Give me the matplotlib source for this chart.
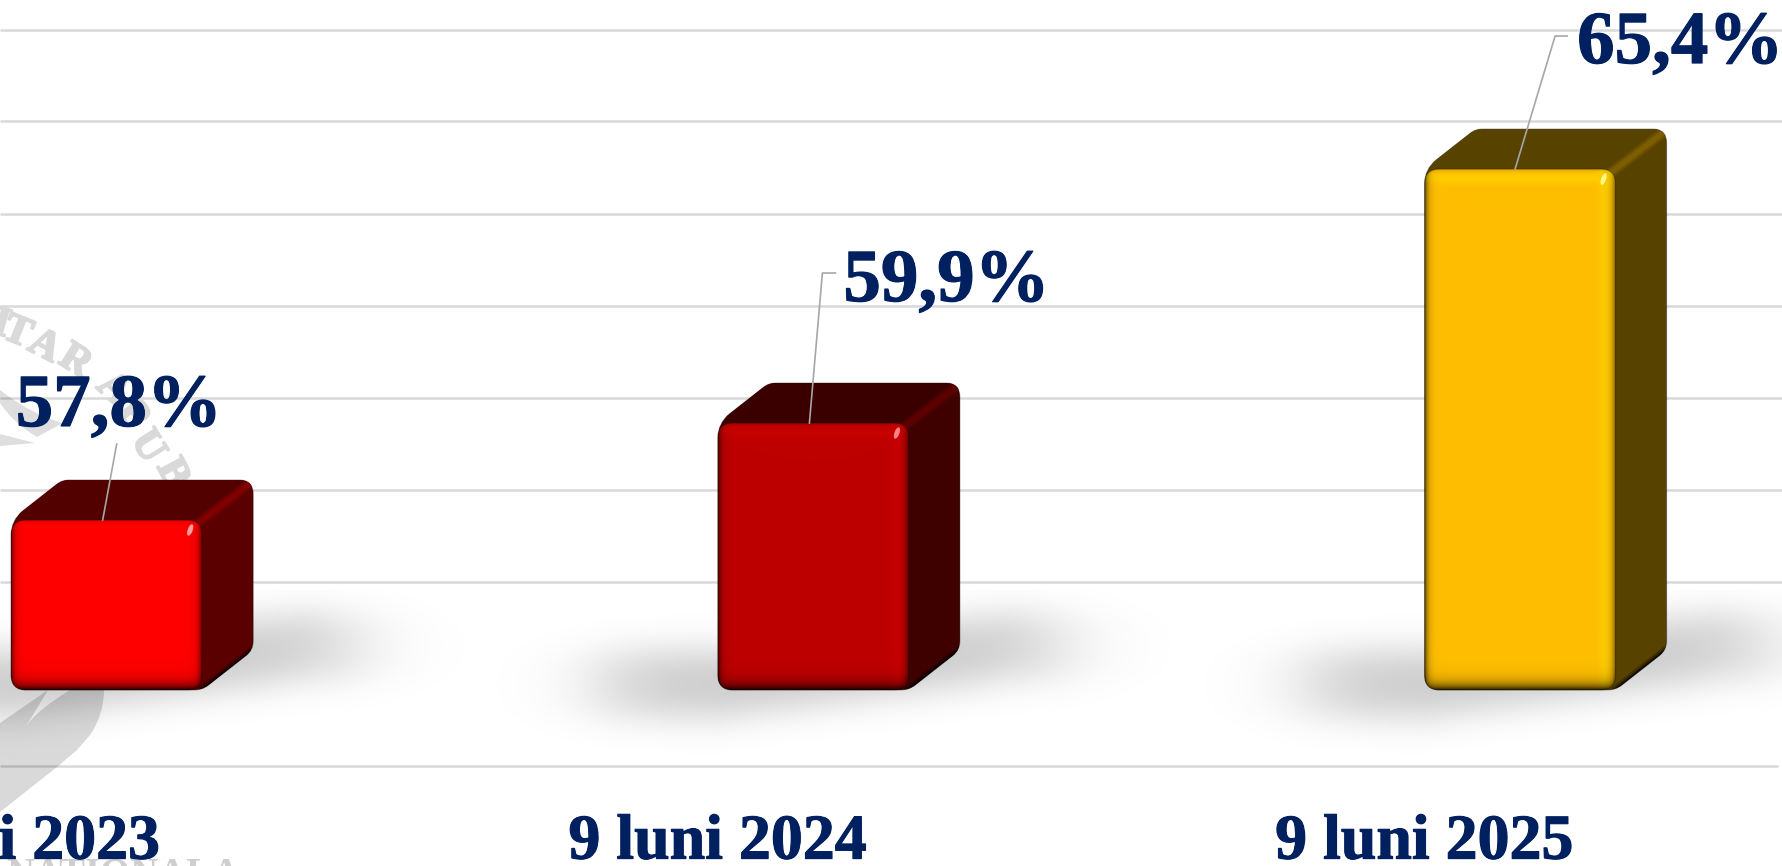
import numpy as np
import matplotlib
matplotlib.use("Agg")
import matplotlib.pyplot as plt
import matplotlib.patheffects as pe
from matplotlib.path import Path
from matplotlib.patches import PathPatch, Ellipse
from matplotlib.transforms import IdentityTransform

plt.rcParams['font.family'] = ['Liberation Serif', 'DejaVu Serif']

# chart data
periods = ["9 luni 2023", "9 luni 2024", "9 luni 2025"]
values = [57.8, 59.9, 65.4]
value_labels = ["57,8%", "59,9%", "65,4%"]
grid_values = [52.47, 56.46, 58.45, 60.45, 62.44, 64.43, 66.43, 68.42]

# colours: front, side, top, highlight on the corner edge, specular spot
front_colors = ["#FF0000", "#BD0000", "#FFBE00"]
side_colors = ["#5A0000", "#3F0000", "#584200"]
top_colors = ["#530000", "#3A0000", "#584200"]
edge_colors = ["#8C0000", "#680000", "#866400"]
rim_colors = ["#FF0000", "#C80000", "#FFCC00"]
spot_colors = ["#FFB0B0", "#FF9090", "#FFFF90"]
navy = "#002060"
grid_color = "#D9D9D9"
leader_color = "#A6A6A6"

W, H = 1782, 866
FLOOR_PX = 766        # pixel row of the lowest grid line
BASE_VALUE = 54.12
BAR_PX = 191
DEPTH_X, DEPTH_Y = 51, 40
RADIUS = 15

# label offsets from the front top centre, pixels (x right, y up)
label_offsets = [(-91, 94), (30, 122), (57, 106)]
leader_offsets = [
    [(-4, 0), (10, 76)],
    [(-4, 0), (9, 150), (22, 150)],
    [(-5, 0), (35, 133), (47, 133)],
]

fig = plt.figure(figsize=(W / 100, H / 100), dpi=100, facecolor="white")
ax = fig.add_axes([0, (H - FLOOR_PX) / H, 1, FLOOR_PX / H])
xlim = (-106.7 / 706.7, (W - 106.7) / 706.7)
ylim = (57.8 - (FLOOR_PX - 520) / 46.18, 57.8 + 520 / 46.18)


def rounded_path(pts, r):
    """Closed path through pts with the corners rounded off, r may be a list."""
    pts = [np.array(p, dtype=float) for p in pts]
    rs = r if isinstance(r, list) else [r] * len(pts)
    verts, codes = [], []
    n = len(pts)
    for i in range(n):
        p, prev, nxt = pts[i], pts[i - 1], pts[(i + 1) % n]
        a = p + (prev - p) / np.linalg.norm(prev - p) * rs[i]
        b = p + (nxt - p) / np.linalg.norm(nxt - p) * rs[i]
        verts.append(a)
        codes.append(Path.MOVETO if i == 0 else Path.LINETO)
        verts += [p, b]
        codes += [Path.CURVE3, Path.CURVE3]
    verts.append(verts[0])
    codes.append(Path.CLOSEPOLY)
    return Path(verts, codes)


def hex_rgb(c):
    return np.array(matplotlib.colors.to_rgb(c))


def draw_shadow(x0, x1, base):
    # soft tilted floor shadow, pixel rows counted downward
    xs = np.arange(x0 - 280, x1 + 340)
    ys = np.arange(590, 760)
    X, Y = np.meshgrid(xs, ys)
    cy = base - 6 - 0.13 * np.clip(X - x0, 0, None)
    cy = np.maximum(cy, base - 44)
    across = np.exp(-(np.abs(Y - cy) / 40) ** 2.4)
    along = 0.5 * (np.tanh((X - (x0 - 115)) / 55) - np.tanh((X - (x1 + 145)) / 60))
    rgba = np.zeros(X.shape + (4,))
    rgba[..., 3] = 0.19 * across * along
    lo = ax.transData.inverted().transform([[xs[0], H - ys[-1]], [xs[-1], H - ys[0]]])
    ax.imshow(rgba, extent=(lo[0, 0], lo[1, 0], lo[0, 1], lo[1, 1]), aspect="auto",
              zorder=2, interpolation="bilinear")


def draw_front(x0, x1, ytop, ybase, color, rim):
    # bevelled front face as an image clipped to a rounded rectangle
    w, h = int(round(x1 - x0)), int(round(ytop - ybase))
    X, Y = np.meshgrid(np.arange(w) + 0.5, np.arange(h) + 0.5)
    base = hex_rgb(color)
    rim = hex_rgb(rim)
    img = np.ones((h, w, 3)) * base
    band = np.exp(-((X - (w - 11)) / 6) ** 2) + np.exp(-((Y - 9) / 6) ** 2)
    img = img + (rim - base) * np.clip(band, 0, 1)[..., None]
    dark = 1 - 0.9 * np.exp(-(h - Y) / 6) - 0.65 * np.exp(-X / 3) \
        - 0.65 * np.exp(-(w - X) / 3) - 0.25 * np.exp(-Y / 1.5)
    img = img * np.clip(dark, 0.05, 1)[..., None]
    lo = ax.transData.inverted().transform([[x0, ybase], [x1, ytop]])
    im = ax.imshow(img, extent=(lo[0, 0], lo[1, 0], lo[0, 1], lo[1, 1]), aspect="auto",
                   zorder=6, interpolation="bilinear")
    clip = PathPatch(rounded_path([(x0, ybase), (x1, ybase), (x1, ytop), (x0, ytop)], RADIUS),
                     transform=IdentityTransform(), fc="none", ec="#00000040", lw=0.8, zorder=6.1)
    ax.add_patch(clip)
    im.set_clip_path(clip)


def draw_bar(i, value):
    (xc, ytop), (_, ybase) = ax.transData.transform([(i, value), (i, BASE_VALUE)])
    x0, x1 = xc - BAR_PX / 2, xc + BAR_PX / 2
    xb, yb = x1 + DEPTH_X, ytop + DEPTH_Y
    draw_shadow(x0, x1, H - ybase)

    outline = [(x0, ytop), (x0 + DEPTH_X, yb), (xb, yb), (xb, ybase + DEPTH_Y), (x1, ybase), (x0, ybase)]
    body = PathPatch(rounded_path(outline, [RADIUS, 7, 14, 9, 8, RADIUS]),
                     transform=IdentityTransform(), fc=side_colors[i], ec="#00000050", lw=0.8, zorder=4)
    ax.add_patch(body)

    top = [(x0, ytop), (x0 + DEPTH_X, yb), (xb, yb), (x1, ytop)]
    patch = PathPatch(rounded_path(top, [RADIUS, 7, 14, 2]), transform=IdentityTransform(),
                      fc=top_colors[i], ec="none", zorder=4.2)
    ax.add_patch(patch)

    # bright corner edge between top and side, dark edge along the floor
    for lw, alpha in [(11, 0.25), (8, 0.35), (5, 0.6)]:
        ln, = ax.plot([x1 - 4, xb - 4], [ytop - 3, yb - 4], color=edge_colors[i], lw=lw * 0.72, alpha=alpha,
                      transform=IdentityTransform(), zorder=4.4, solid_capstyle="round")
        ln.set_clip_path(body)
    for lw, alpha in [(9, 0.25), (5, 0.4), (2.5, 0.6)]:
        ln, = ax.plot([x1, xb], [ybase, ybase + DEPTH_Y], color="black", lw=lw * 0.72, alpha=alpha,
                      transform=IdentityTransform(), zorder=4.4)
        ln.set_clip_path(body)

    draw_front(x0, x1, ytop, ybase, front_colors[i], rim_colors[i])
    spot = Ellipse((x1 - 12, ytop - 10), 5, 12, angle=-20, transform=IdentityTransform(),
                   fc=spot_colors[i], ec="none", alpha=0.9, zorder=6.5)
    ax.add_patch(spot)
    return xc, ytop


# grid lines behind everything
ax.hlines(grid_values[1:], xlim[0], xlim[1], color=grid_color, lw=1.8, zorder=1)
floor_end = xlim[0] + (xlim[1] - xlim[0]) * 1778 / W
ax.hlines(grid_values[0], xlim[0], floor_end, color=grid_color, lw=1.8, zorder=1, clip_on=False)

ax.set_xlim(xlim)
ax.set_ylim(ylim)
fig.canvas.draw()

tops = [draw_bar(i, v) for i, v in enumerate(values)]

# emblem watermark at the lower left, pixel rows counted downward
def px(x, y):
    return (x, H - y)


leaf_verts = [px(104, 690), px(104, 715), px(90, 735), px(77, 750), px(57, 767), px(0, 812), px(0, 723),
              px(48, 690), px(25, 728), px(34, 712), px(70, 690)]
leaf_codes = [Path.MOVETO, Path.CURVE3, Path.CURVE3, Path.LINETO, Path.LINETO, Path.LINETO, Path.LINETO,
              Path.LINETO, Path.LINETO, Path.CURVE3, Path.CURVE3]
ax.add_patch(PathPatch(Path(leaf_verts, leaf_codes), transform=IdentityTransform(), fc="black", ec="none",
                       alpha=0.15, zorder=3, clip_on=False))
swoosh = [px(0, 390), px(32, 415), px(63, 423), px(50, 430), px(37, 437), px(14, 424), px(0, 403)]
swoosh_codes = [Path.MOVETO, Path.CURVE3, Path.CURVE3, Path.LINETO, Path.LINETO, Path.CURVE3, Path.CURVE3]
ax.add_patch(PathPatch(Path(swoosh, swoosh_codes), transform=IdentityTransform(), fc="black",
                       ec="none", alpha=0.13, zorder=3, clip_on=False))
sliver = [px(0, 434), px(35, 443), px(0, 446)]
ax.add_patch(PathPatch(Path(sliver + [sliver[0]], closed=True), transform=IdentityTransform(), fc="black",
                       ec="none", alpha=0.13, zorder=3, clip_on=False))
arc_letters = [("I", 1, 325, -16), ("T", 17, 333, -22), ("A", 44, 347, -27), ("R", 75, 362, -32),
               ("A", 113, 390, -42), ("P", 132, 415, -50), ("U", 147, 447, -58), ("B", 172, 474, -62)]
mark_stroke = [pe.withStroke(linewidth=1.5, foreground="#D9D9D9")]
for ch, x, y, rot in arc_letters:
    fig.text(x / W, 1 - y / H, ch, color="#D9D9D9", fontsize=30, fontweight="bold", rotation=rot,
             rotation_mode="anchor", ha="center", va="center", zorder=-1, path_effects=mark_stroke)
ax.patch.set_alpha(0)
fig.text(6 / W, 1 - 885 / H, "NATIONALA", color="#CFCFCF", fontsize=28, fontweight="bold",
         ha="left", va="baseline", zorder=-1)

thicker = [pe.withStroke(linewidth=0.8, foreground=navy)]

# leader lines and value labels
for i, (xc, ytop) in enumerate(tops):
    pts = np.array([(xc + dx, ytop + dy) for dx, dy in leader_offsets[i]])
    ax.plot(pts[:, 0], pts[:, 1], color=leader_color, lw=1.2, transform=IdentityTransform(), zorder=7)
    ax.annotate(value_labels[i], xy=(i, values[i]), xytext=(label_offsets[i][0] * 0.72, label_offsets[i][1] * 0.72),
                textcoords="offset points", ha="left", va="baseline", color=navy, fontsize=54,
                fontweight="bold", zorder=8, path_effects=thicker)

# category labels sit left of the bars, on the axis itself
ax.set_xticks([i - 96 / 706.7 for i in range(len(periods))])
ax.set_xticklabels(periods, fontsize=46, fontweight="bold", color=navy, path_effects=thicker)
ax.tick_params(axis="x", length=0, pad=35)
ax.set_yticks([])
for s in ax.spines.values():
    s.set_visible(False)

ax.set_xlim(xlim)
ax.set_ylim(ylim)
fig.savefig("out.png", dpi=100)
